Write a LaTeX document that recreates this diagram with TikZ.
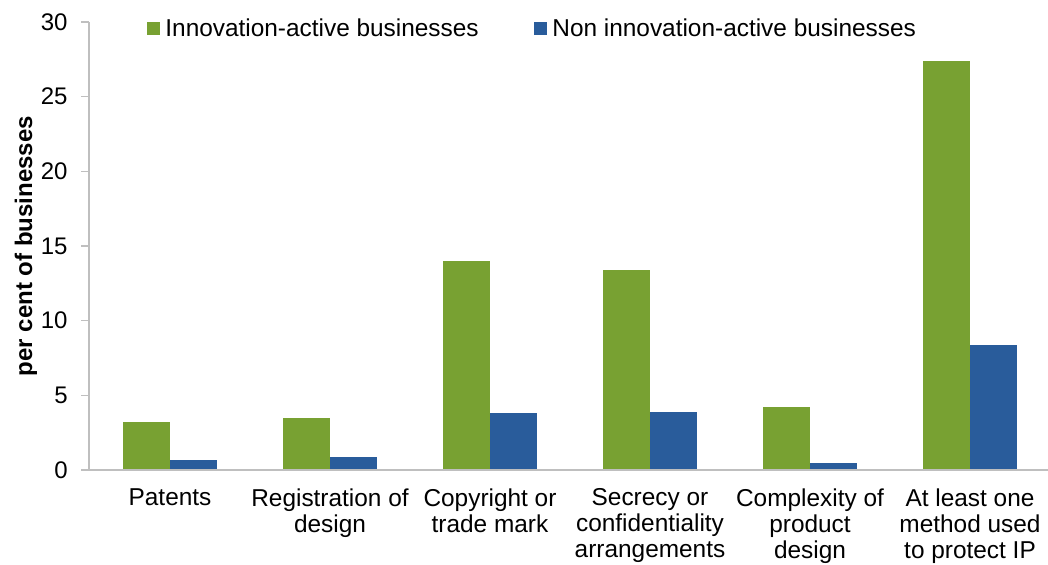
\documentclass[tikz,border=0pt]{standalone}
\usepackage{fontspec}
\setmainfont{Liberation Sans}
\definecolor{innoGreen}{RGB}{120,161,50}
\definecolor{nonBlue}{RGB}{41,92,155}
\definecolor{axisGrey}{RGB}{191,191,191}
\begin{document}
\begin{tikzpicture} [
		x = 0.5pt,
		y = 0.5pt,
		axis/.style = {
			draw = axisGrey,
			line width = 0.8pt,
		},
		tick-label/.style = {
			anchor = east,
			inner sep = 0pt,
			font = \fontsize{12}{13}\selectfont,
		},
		cat-label/.style = {
			anchor = north,
			align = center,
			inner sep = 0pt,
			font = \fontsize{12.2}{13}\selectfont,
		},
		axis-title/.style = {
			rotate = 90,
			inner sep = 0pt,
			font = \fontsize{12}{13}\selectfont\bfseries,
		},
		legend-key/.style = {
			rectangle,
			inner sep = 0pt,
			minimum size = 6.5pt,
		},
		legend-text/.style = {
			anchor = base west,
			inner sep = 0pt,
			font = \fontsize{12.2}{13}\selectfont,
		},
		inno/.style = {
			fill = innoGreen,
		},
		non/.style = {
			fill = nonBlue,
		},
	]

	\useasboundingbox (-89,-94) rectangle (959,470);

	% bars
	\foreach \green/\blue [count = \i from 0] in {3.2/0.7, 3.5/0.9, 14.0/3.8, 13.4/3.9, 4.2/0.5, 27.4/8.4} {
		\path[inno] (81+160*\i-47,0) rectangle (81+160*\i,\green*14.933);
		\path[non] (81+160*\i,0) rectangle (81+160*\i+47,\blue*14.933);
	}

	% axes
	\draw[axis] (0,0) -- (960,0);
	\draw[axis] (0,0) -- (0,448);
	\foreach \v in {0,5,...,30} {
		\draw[axis] (-8,\v*14.933) -- (0,\v*14.933);
		\node[tick-label] (tick\v) at (-21,\v*14.933) {\v};
	}
	\node[axis-title] (yTitle) at (-63,224) {per cent of businesses};

	% categories
	\foreach \name [count = \i from 0] in {
		Patents,
		Registration of\\design,
		Copyright or\\trade mark,
		Secrecy or\\confidentiality\\arrangements,
		Complexity of\\product\\design,
		At least one\\method used\\to protect IP
	} {
		\node[cat-label] (cat\i) at (81+160*\i,-18.5) {\name};
	}

	% legend
	\node[legend-key, inno] (keyInno) at (64.5,441.5) {};
	\node[legend-text] (legendInno) at (76,434) {Innovation-active businesses};
	\node[legend-key, non] (keyNon) at (451.5,441.5) {};
	\node[legend-text] (legendNon) at (463,434) {Non innovation-active businesses};
\end{tikzpicture}
\end{document}
